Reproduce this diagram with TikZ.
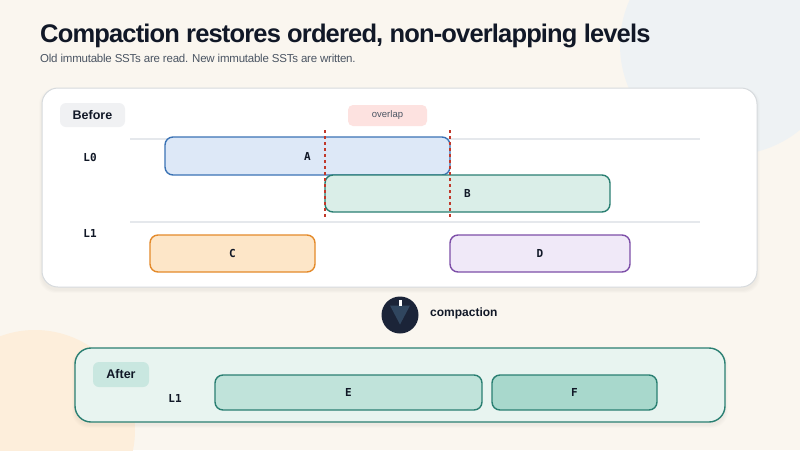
\documentclass[tikz,border=0pt]{standalone}
\usepackage{fontspec}
\setmainfont{Liberation Sans}
\newfontfamily\monofont{DejaVu Sans Mono}
\usetikzlibrary{calc}
\definecolor{bg}{HTML}{FAF6EF}
\definecolor{blobblue}{HTML}{EEF2F4}
\definecolor{blobpeach}{HTML}{FDEEDB}
\definecolor{ink}{HTML}{111827}
\definecolor{subink}{HTML}{4B5563}
\definecolor{panelline}{HTML}{D6DADD}
\definecolor{pillgrey}{HTML}{F0F1F3}
\definecolor{pillred}{HTML}{FDE2E0}
\definecolor{gridline}{HTML}{E5E8EC}
\definecolor{afill}{HTML}{DDE8F7}
\definecolor{aline}{HTML}{3B73B5}
\definecolor{bfill}{HTML}{DAEEE8}
\definecolor{teal}{HTML}{2A7F72}
\definecolor{cfill}{HTML}{FDE6C8}
\definecolor{cline}{HTML}{E48A2A}
\definecolor{dfill}{HTML}{F0E9F8}
\definecolor{dline}{HTML}{7D4FA8}
\definecolor{dashred}{HTML}{C0392B}
\definecolor{navy}{HTML}{1B2438}
\definecolor{navytri}{HTML}{30465F}
\definecolor{afterfill}{HTML}{E8F4F0}
\definecolor{afterpill}{HTML}{C9E7E0}
\definecolor{efill}{HTML}{C0E3DA}
\definecolor{ffill}{HTML}{A8D8CC}
\begin{document}
\begin{tikzpicture}[x=1pt,y=-1pt,
  sst/.style={draw, line width=1.4pt, rounded corners=8pt, inner sep=0pt,
    font=\monofont\bfseries\fontsize{11}{13}\selectfont, text=ink},
  lvl/.style={font=\monofont\bfseries\fontsize{11}{13}\selectfont, text=ink, inner sep=0pt},
  pill/.style={rounded corners=6pt, inner sep=0pt, font=\bfseries\fontsize{12.5}{14}\selectfont, text=ink},
  grid line/.style={draw=gridline, line width=1.2pt},
  guide/.style={draw=dashred, line width=1.3pt, dash pattern=on 3pt off 3pt}
]
\useasboundingbox (0,0) rectangle (800,450);
% background
\fill[bg] (0,0) rectangle (800,450);
\begin{scope}
\clip (0,0) rectangle (800,450);
\fill[blobblue] (730,45) circle (110);
\fill[blobpeach] (35,430) circle (100);
\end{scope}
% title
\node[anchor=base west, inner sep=0pt, text=ink, font=\bfseries\fontsize{25.5}{30}\selectfont\addfontfeatures{LetterSpace=-3.3}] (title) at (40,42) {Compaction restores ordered, non-overlapping levels};
\node[anchor=base west, inner sep=0pt, text=subink, font=\fontsize{11.5}{14}\selectfont\addfontfeatures{LetterSpace=-2}] (subtitle) at (40,62) {Old immutable SSTs are read. New immutable SSTs are written.};
% Before panel shadow
\foreach \i in {1,...,6} {
  \fill[black, opacity=0.006, rounded corners=16pt] (42-\i/2,88-\i/2+3) rectangle (757+\i/2,287+\i/2+3);
}
\node[draw=panelline, fill=white, line width=1pt, rounded corners=16pt, minimum width=715pt, minimum height=199pt, inner sep=0pt] (before) at (399.5,187.5) {};
\node[pill, fill=pillgrey, minimum width=65pt, minimum height=24pt] (beforelbl) at (92.5,115) {Before};
\node[fill=pillred, rounded corners=5pt, minimum width=79pt, minimum height=21pt, inner sep=0pt, text=subink, font=\fontsize{9.5}{11}\selectfont] (overlap) at (387.5,115.5) {overlap};
% grid lines
\coordinate (g0l) at (130,139); \coordinate (g0r) at (700,139);
\coordinate (g1l) at (130,222); \coordinate (g1r) at (700,222);
\draw[grid line] (g0l) -- (g0r);
\draw[grid line] (g1l) -- (g1r);
\node[lvl] (L0) at (90,157) {L0};
\node[lvl] (L1) at (90,233) {L1};
% SSTs
\node[sst, fill=afill, draw=aline, minimum width=285pt, minimum height=38pt] (A) at (307.5,156) {A};
\node[sst, fill=bfill, draw=teal, minimum width=285pt, minimum height=37pt] (B) at (467.5,193.5) {B};
\node[sst, fill=cfill, draw=cline, minimum width=165pt, minimum height=37pt] (C) at (232.5,253.5) {C};
\node[sst, fill=dfill, draw=dline, minimum width=180pt, minimum height=37pt] (D) at (540,253.5) {D};
% overlap guides
\coordinate (o1t) at (325,130); \coordinate (o1b) at (325,217);
\coordinate (o2t) at (450,130); \coordinate (o2b) at (450,217);
\draw[guide] (o1t) -- (o1b);
\draw[guide] (o2t) -- (o2b);
% compaction icon
\node[circle, fill=navy, minimum size=37pt, inner sep=0pt] (icon) at (400,315) {};
\fill[navytri] ($(icon.center)+(-10,-9.5)$) -- ($(icon.center)+(10,-9.5)$) -- ($(icon.center)+(0,9.5)$) -- cycle;
\fill[white] ($(icon.center)+(-1.5,-15)$) rectangle ($(icon.center)+(1.5,-9.5)$);
\node[anchor=west, inner sep=0pt, text=ink, font=\bfseries\fontsize{12}{14}\selectfont] (complbl) at (430,313) {compaction};
% After panel shadow
\foreach \i in {1,...,6} {
  \fill[black, opacity=0.006, rounded corners=16pt] (75-\i/2,348-\i/2+3) rectangle (725+\i/2,422+\i/2+3);
}
\node[draw=teal, fill=afterfill, line width=1.4pt, rounded corners=16pt, minimum width=650pt, minimum height=74pt, inner sep=0pt] (after) at (400,385) {};
\node[pill, fill=afterpill, minimum width=56pt, minimum height=25pt] (afterlbl) at (121,374.5) {After};
\node[lvl] (L1b) at (175,398) {L1};
\node[sst, fill=efill, draw=teal, minimum width=267pt, minimum height=35pt] (E) at (348.5,392.5) {E};
\node[sst, fill=ffill, draw=teal, minimum width=165pt, minimum height=35pt] (F) at (574.5,392.5) {F};
\end{tikzpicture}
\end{document}
